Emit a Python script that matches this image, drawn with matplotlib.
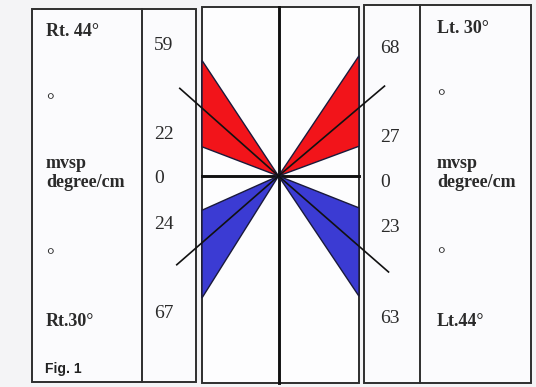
import matplotlib.pyplot as plt
import numpy as np
from matplotlib.patches import Rectangle, Polygon

# Ângulos (graus a partir da horizontal) das bordas de cada leque: [esquerda, direita]
red_inner = [20.9, 20.3]
red_outer = [56.5, 56.2]
red_mean = [41.6, 40.3]
red_mean_len = [132, 139]

blue_inner = [24.1, 21.6]
blue_outer = [57.9, 56.2]
blue_mean = [41.1, 41.1]
blue_mean_len = [135, 146]

# Textos das colunas
left_numbers = ["59", "22", "0", "24", "67"]
right_numbers = ["68", "27", "0", "23", "63"]
left_labels = ["Rt. 44°", "°", "mvsp", "degree/cm", "°", "Rt.30°"]
right_labels = ["Lt. 30°", "°", "mvsp", "degree/cm", "°", "Lt.44°"]

# Figura em "pixels": 536 x 387
fig = plt.figure(figsize=(5.36, 3.87), dpi=100, facecolor="#f4f4f6")
ax = fig.add_axes([0, 0, 1, 1])
ax.set_xlim(0, 536)
ax.set_ylim(387, 0)
ax.axis("off")

frame = "#2e2e2e"

# Caixas (esquerda, centro, direita)
ax.add_patch(Rectangle((32, 9), 164, 373, fc="#fbfbfd", ec=frame, lw=1.4))
ax.plot([142, 142], [9, 382], color=frame, lw=1.4)
ax.add_patch(Rectangle((202, 7), 157, 376, fc="#fdfdfe", ec=frame, lw=1.4))
ax.add_patch(Rectangle((364, 5), 167, 378, fc="#fbfbfd", ec=frame, lw=1.4))
ax.plot([420, 420], [5, 383], color=frame, lw=1.4)

# Linhas centrais (vertical e horizontal)
vx, vy = 278.5, 176
ax.plot([vx, vx], [7, 383], color="#111111", lw=2.1)
ax.plot([202, 359], [vy, vy], color="#111111", lw=2.1)

edges_x = [202, 359]


def fan(i, inner, outer, mean, mlen, color, sign):
    ex = edges_x[i]
    dx = abs(ex - vx)
    y1 = vy + sign * dx * np.tan(np.radians(inner))
    y2 = vy + sign * dx * np.tan(np.radians(outer))
    ax.add_patch(Polygon([(vx, vy), (ex, y1), (ex, y2)], closed=True,
                         fc=color, ec="#1a1a3a", lw=1.0, zorder=3))
    d = -1 if i == 0 else 1
    mx = vx + d * mlen * np.cos(np.radians(mean))
    my = vy + sign * mlen * np.sin(np.radians(mean))
    ax.plot([vx, mx], [vy, my], color="#111111", lw=1.2, zorder=4)


for i in range(2):
    fan(i, red_inner[i], red_outer[i], red_mean[i], red_mean_len[i], "#f2141a", -1)
    fan(i, blue_inner[i], blue_outer[i], blue_mean[i], blue_mean_len[i], "#3b3bd3", 1)

serif = "Liberation Serif"
tc = "#2a2a2a"

# Números das colunas internas
left_num_y = [50, 139, 183, 229, 318]
right_num_y = [53, 142, 187, 232, 323]
for s, y in zip(left_numbers, left_num_y):
    ax.text(154, y, s, family=serif, fontsize=14, color=tc, va="baseline")
for s, y in zip(right_numbers, right_num_y):
    ax.text(380, y, s, family=serif, fontsize=14, color=tc, va="baseline")

# Rótulos das colunas externas
left_lab_y = [36, 106, 168, 187, 261, 326]
right_lab_y = [33, 102, 168, 187, 260, 326]
for s, y in zip(left_labels, left_lab_y):
    fs = 14 if s == "°" else 13
    ax.text(46, y, s, family=serif, fontsize=fs, color=tc, va="baseline",
            fontweight="normal" if s == "°" else "bold")
for s, y in zip(right_labels, right_lab_y):
    fs = 14 if s == "°" else 13
    ax.text(437, y, s, family=serif, fontsize=fs, color=tc, va="baseline",
            fontweight="normal" if s == "°" else "bold")

ax.text(45, 373, "Fig. 1", family="Liberation Sans", fontsize=10, fontweight="bold",
        color="#222222", va="baseline")

fig.savefig("out.png", dpi=100, facecolor=fig.get_facecolor())
